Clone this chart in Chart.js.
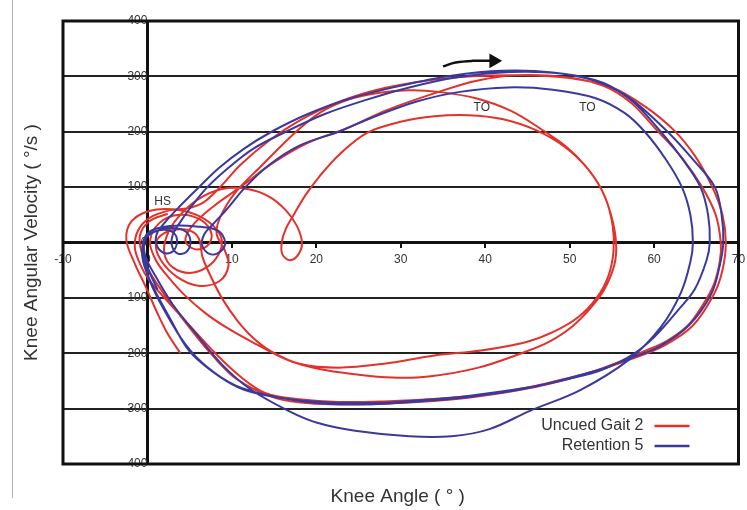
<!DOCTYPE html>
<html>
<head>
<meta charset="utf-8">
<script src="https://cdn.jsdelivr.net/npm/chart.js@4.4.1/dist/chart.umd.min.js"></script>
<style>
  body { margin: 0; background: #fff; }
  #wrap { position: relative; width: 747px; height: 510px; }
  #edge { position: absolute; left: 12px; top: 0; width: 1px; height: 498px; background: #b0b0b0; }
</style>
</head>
<body>
<div id="wrap">
  <div id="edge"></div>
  <canvas id="phaseChart" width="747" height="510"></canvas>
</div>
<script>
// knee angle (deg) / angular velocity (deg/s), one cycle per array
const uncuedLoop1 = [
  [3.9,-200],[2.4,-165],[1.1,-125],[-0.2,-80],[-1.5,-38],[-2.5,5],[-1.9,38],[0.2,57],[3,60],[5.8,50],[7.8,30],[8.8,5],
  [8.4,-22],[7,-45],[5,-55],[3,-45],[2,-20],[2.3,12],[3.6,45],[6,78],[9,97],[12,96],[14.5,82],[16.4,58],[17.7,30],[18.3,0],
  [17.9,-21],[16.9,-32],[16,-22],[15.9,0],[16.4,25],[17.4,52],[18.7,85],[20.4,120],[22.8,160],[26,198],[30,218],[34,228],
  [38,230],[42,223],[46,203],[49.4,173],[52.2,132],[54.2,82],[55.1,30],[55.2,-15],[54.6,-60],[53.2,-100],[51,-135],
  [48,-162],[44.8,-180],[39.5,-195],[34,-204],[28,-219],[22.6,-226],[18,-219],[14.7,-197],[12.5,-172],[10.6,-140],
  [8.8,-100],[7.4,-58],[6.5,-25],[6.2,3]
];
const uncuedLoop2 = [
  [5.5,18],[4,24],[2,17],[1,-2],[1.6,-32],[3.5,-62],[6,-78],[8.5,-70],[9.6,-42],[9.1,-12],[8.2,15],[8.6,45],[10.4,90],
  [13.6,140],[17.6,200],[20.5,235],[23.8,258],[27.3,270],[31,275],[34.5,272],[39,260],[43,238],[46.6,205],[49.6,173],
  [51.9,138],[53.7,98],[54.9,50],[55.5,0],[55.3,-40],[54.1,-85],[52.5,-118],[50.2,-153],[47.6,-179],[45,-196],[39.2,-226],
  [33.3,-242],[29,-244],[24.6,-238],[20.2,-228],[16.7,-213],[12.2,-178],[9.2,-152],[6.9,-128],[4.4,-95],[2.5,-63],[1,-32]
];
const uncuedLoop3 = [
  [0.3,2],[1.4,35],[3.8,50],[6.4,40],[7.6,15],[7.1,-6],[5.6,-12],[4.5,3],[5.3,30],[7.8,65],[11,100],[15,145],[19,180],
  [23.4,205],[28.5,240],[34.5,272],[39,292],[43.5,302],[49.4,299],[54,283],[57.3,252],[60.2,205],[63.3,153],[65.7,100],
  [67.3,50],[67.9,0],[67.8,-33],[67.1,-75],[65.8,-112],[64,-150],[61.5,-178],[58.9,-196],[55.8,-216],[52.8,-233],[49,-248],
  [45.1,-262],[40,-275],[33.3,-283],[28,-287],[22.6,-288],[18,-283],[14,-272],[11,-242],[8.1,-201],[5,-150],[2.2,-103],
  [0.2,-68]
];
const uncuedLoop4 = [
  [-0.9,-38],[-1.5,-8],[-1.1,22],[0.3,45],[2.6,58],[4.8,62],[6.6,72],[8.6,100],[11,140],[14.5,185],[18,220],[22,250],
  [27,275],[33,292],[38.5,300],[44,302],[50,297],[55,280],[59,245],[62.4,202],[64.9,155],[66.9,100],[68.1,50],[68.5,0],
  [68.1,-50],[67.1,-93],[64.6,-150],[61.2,-186],[57.2,-211],[52.2,-236],[45.3,-263],[38.2,-280],[33,-287],[26.2,-292],
  [20,-291],[15.2,-281],[10.6,-247],[7.6,-202],[5.1,-156],[2.6,-106],[0.6,-62],[-0.6,-22],[-0.9,12],[0.2,38],[2.4,52]
];
const retentionLoop1 = [
  [1.2,-85],[0,-45],[-0.6,-8],[0.3,20],[2.8,30],[5.8,29],[8.4,21],[9.2,0],[8.6,-17],[7.4,-21],[6.5,-6],[6.7,14],[7.7,32],
  [9.4,60],[11.6,100],[14.4,140],[18,175],[22.6,200],[27,228],[32,255],[37,272],[42.7,280],[48,276],[53,261],[56.5,234],
  [58.9,200],[61.4,150],[63.3,100],[64.3,50],[64.6,0],[64.3,-35],[63.2,-90],[60.8,-153],[57,-212],[51.2,-267],[45.3,-304],
  [40.5,-337],[36,-350],[31,-350],[24.6,-340],[20,-325],[16.7,-304],[12.2,-265],[8.8,-220],[5.6,-162],[3,-112],[1,-62]
];
const retentionLoop2 = [
  [-0.3,-22],[-0.2,8],[1,21],[3,26],[4.6,19],[5.1,0],[4.6,-17],[3.6,-20],[2.9,-6],[3,14],[3.8,35],[5.2,65],[7.1,100],
  [9.6,135],[12.6,170],[16.4,200],[21,232],[26,258],[31,280],[36.5,298],[43,308],[49,305],[54,288],[57.5,254],[60.8,200],
  [63.4,150],[65.5,100],[66.4,50],[66.6,0],[66.2,-33],[64.8,-85],[62.8,-123],[60.2,-168],[57.7,-200],[54,-229],[50,-246],
  [45,-262],[38,-277],[33,-284],[26.6,-290],[18.7,-286],[14,-276],[10.8,-262],[7.6,-232],[4.9,-195],[2.6,-135],[0.6,-78]
];
const retentionLoop3 = [
  [-0.5,-35],[-0.5,0],[0.5,17],[2,23],[3.2,16],[3.5,0],[3,-16],[2,-19],[1.1,-5],[1.1,15],[2,35],[3.8,65],[6.1,100],
  [8.5,135],[11.5,170],[14.7,200],[19,232],[24,260],[30,283],[36,301],[42,310],[48,307],[53,292],[57,262],[61.6,200],
  [64.6,150],[67.2,100],[68,50],[68.2,0],[67.8,-40],[66.8,-92],[64.1,-150],[60.6,-188],[57,-210],[53,-232],[45,-263],
  [38,-279],[33,-286],[26,-292],[20,-290],[14.6,-277],[10.4,-258],[7,-224],[4.5,-184],[2.1,-125],[0.3,-70],[-0.4,-30]
];

// direction arrow above the loops
const arrowAngle = [35, 36.5, 38.5, 41];
const arrowVelocity = [318, 325, 328, 328];

// text marks: heel strike / toe off
const noteText = ['HS', 'TO', 'TO'];
const noteAngle = [1.8, 39.6, 52.1];
const noteVelocity = [74, 243, 243];

const seriesNames = ['Uncued Gait 2', 'Retention 5'];
const seriesColors = ['#e3312c', '#3a3a9e'];

const toPoints = loops => loops.flat().map(p => ({ x: p[0], y: p[1] }));
const uncuedPoints = toPoints([uncuedLoop1, uncuedLoop2, uncuedLoop3, uncuedLoop4]);
const retentionPoints = toPoints([retentionLoop1, retentionLoop2, retentionLoop3]);
const arrowPoints = arrowAngle.map((a, i) => ({ x: a, y: arrowVelocity[i] }));

const font = '"Liberation Sans", Arial, sans-serif';

// box, titles, notes and legend
const overlay = {
  id: 'overlay',
  afterDraw(chart) {
    const { ctx, chartArea: a, scales: { x, y } } = chart;
    ctx.save();
    ctx.lineWidth = 3;
    ctx.strokeStyle = '#111';
    ctx.strokeRect(a.left, a.top, a.right - a.left, a.bottom - a.top);

    ctx.fillStyle = '#333';
    ctx.font = '12px ' + font;
    ctx.textAlign = 'center';
    ctx.textBaseline = 'middle';
    noteText.forEach((t, i) => ctx.fillText(t, x.getPixelForValue(noteAngle[i]), y.getPixelForValue(noteVelocity[i])));

    ctx.font = '19px ' + font;
    ctx.fillText('Knee Angle ( ° )', (a.left + a.right) / 2 - 3, a.bottom + 33);
    ctx.save();
    ctx.translate(32, (a.top + a.bottom) / 2);
    ctx.rotate(-Math.PI / 2);
    ctx.fillText('Knee Angular Velocity ( °/s )', 0, 0);
    ctx.restore();

    ctx.font = '16px ' + font;
    ctx.textAlign = 'right';
    seriesNames.forEach((name, i) => {
      const ly = a.bottom - 38 + i * 20;
      ctx.fillStyle = '#333';
      ctx.fillText(name, a.right - 95, ly);
      ctx.strokeStyle = seriesColors[i];
      ctx.lineWidth = 2.5;
      ctx.beginPath();
      ctx.moveTo(a.right - 84, ly);
      ctx.lineTo(a.right - 49, ly);
      ctx.stroke();
    });
    ctx.restore();
  }
};

new Chart(document.getElementById('phaseChart'), {
  type: 'scatter',
  data: {
    datasets: [
      { label: seriesNames[0], data: uncuedPoints, showLine: true, borderColor: seriesColors[0], borderWidth: 2,
        pointRadius: 0, tension: 0.35, order: 2 },
      { label: seriesNames[1], data: retentionPoints, showLine: true, borderColor: seriesColors[1], borderWidth: 2,
        pointRadius: 0, tension: 0.35, order: 1 },
      { label: 'arrow', data: arrowPoints, showLine: true, borderColor: '#111', borderWidth: 2.5,
        pointRadius: [0, 0, 0, 6], pointStyle: 'triangle', rotation: 90,
        pointBackgroundColor: '#111', pointBorderColor: '#111', tension: 0.4, order: 0 }
    ]
  },
  options: {
    responsive: false,
    animation: false,
    layout: { padding: { left: 63, top: 21, right: 7, bottom: 46 } },
    plugins: { legend: { display: false }, tooltip: { enabled: false } },
    scales: {
      x: {
        type: 'linear',
        min: -10, max: 70,
        position: { y: 0 },
        afterFit: s => { s.paddingLeft = 0; s.paddingRight = 0; },
        grid: { display: true, drawOnChartArea: false, drawTicks: true, tickLength: 4, color: '#111', lineWidth: 2 },
        border: { display: true, color: '#111', width: 3 },
        ticks: { stepSize: 10, padding: 6, color: '#333', font: { family: font, size: 12 }, autoSkip: false, maxRotation: 0 }
      },
      y: {
        type: 'linear',
        min: -400, max: 400,
        position: { x: 0 },
        grid: { color: '#222', lineWidth: 2, tickLength: 6 },
        border: { display: true, color: '#111', width: 3 },
        ticks: { stepSize: 100, padding: 2, color: '#333', font: { family: font, size: 12 }, autoSkip: false }
      }
    }
  },
  plugins: [overlay]
});
</script>
</body>
</html>
